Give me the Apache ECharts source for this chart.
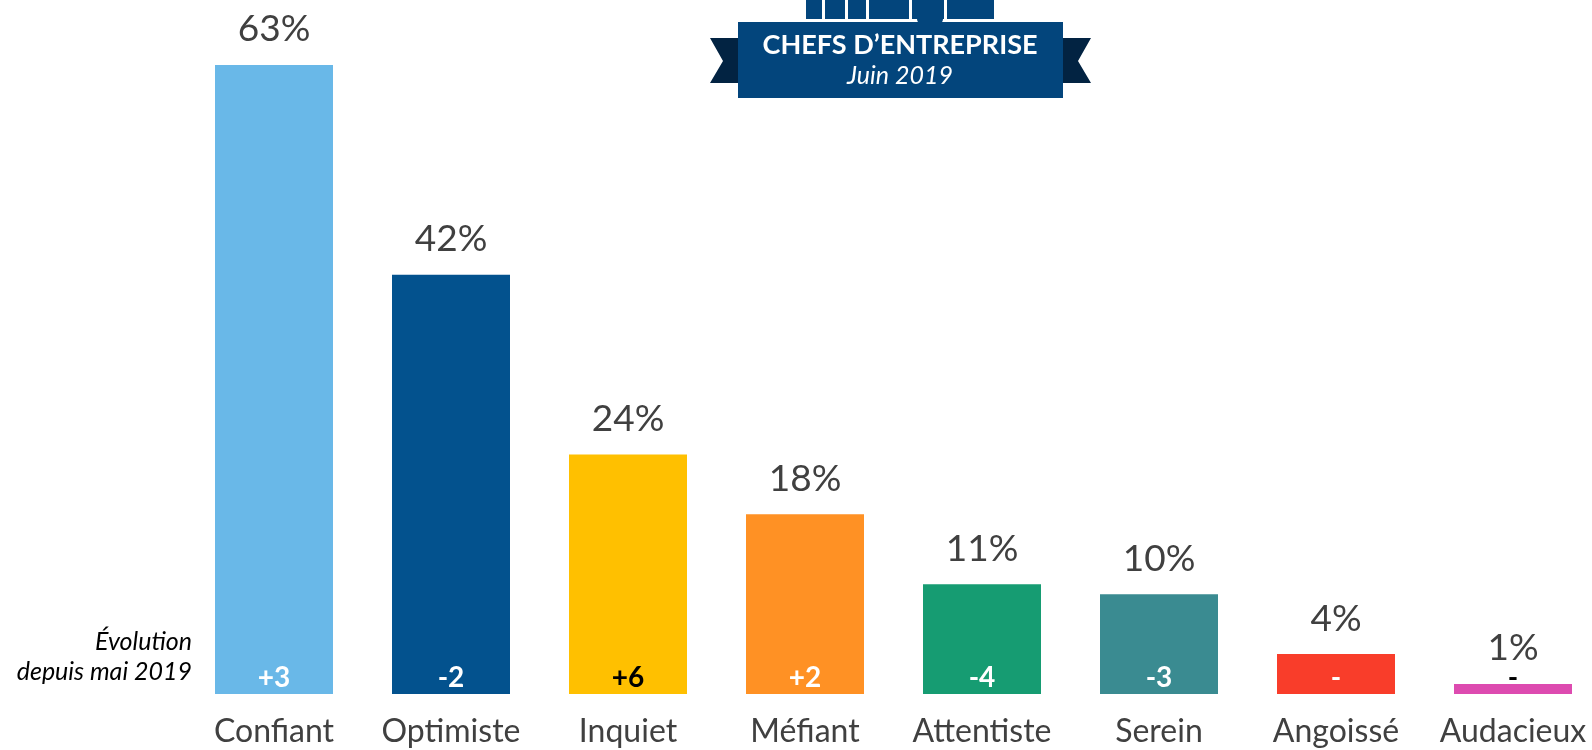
<!DOCTYPE html>
<html>
<head>
<meta charset="utf-8">
<script src="https://cdn.jsdelivr.net/npm/echarts@6/dist/echarts.min.js"></script>
<style>
    html, body { margin: 0; padding: 0; background: #fff; }
    #myChart { width: 1592px; height: 750px; }
</style>
</head>
<body>
<div id="myChart"></div>
<script>
var categories = ['Confiant', 'Optimiste', 'Inquiet', 'Méfiant', 'Attentiste', 'Serein', 'Angoissé', 'Audacieux'];
var values = [63, 42, 24, 18, 11, 10, 4, 1];
var evolutions = ['+3', '-2', '+6', '+2', '-4', '-3', '-', '-'];
var barColors = ['#69b8e8', '#03528e', '#ffc000', '#ff9124', '#169c72', '#3a8b91', '#f93d2a', '#dd4bb0'];
var evoColors = ['#fff', '#fff', '#000', '#fff', '#fff', '#fff', '#fff', '#000'];

var font = 'Lato';
var echart = echarts.init(document.querySelector('#myChart'));

// logo blocks peeking above the banner
var logoBlocks = [[806, 16], [825, 20], [848, 18], [869, 40], [912, 32], [947, 47]];
var graphics = [];
logoBlocks.forEach(function (b) {
    graphics.push({
        type: 'rect',
        shape: { x: b[0], y: 0, width: b[1], height: 19 },
        style: { fill: '#03457c' }
    });
});
graphics.push(
    { type: 'rect', shape: { x: 917, y: 0, width: 26, height: 25, r: [0, 0, 6, 6] }, style: { fill: '#03457c' } },
    { type: 'polygon', shape: { points: [[710, 38], [740, 38], [740, 83], [710, 83], [723, 61]] }, style: { fill: '#022342' } },
    { type: 'polygon', shape: { points: [[1061, 38], [1091, 38], [1078, 61], [1091, 83], [1061, 83]] }, style: { fill: '#022342' } },
    { type: 'rect', shape: { x: 738, y: 22, width: 325, height: 76 }, style: { fill: '#03457c' } },
    {
        type: 'text', x: 900, y: 45,
        style: { text: 'CHEFS D’ENTREPRISE', fill: '#fff', font: 'bold 27px ' + font, textAlign: 'center', textVerticalAlign: 'middle' }
    },
    {
        type: 'text', x: 900, y: 76,
        style: { text: 'Juin 2019', fill: '#fff', font: 'italic 25px ' + font, textAlign: 'center', textVerticalAlign: 'middle' }
    },
    {
        type: 'text', x: 192, y: 642,
        style: { text: 'Évolution', fill: '#000', font: 'italic 25px ' + font, textAlign: 'right', textVerticalAlign: 'middle' }
    },
    {
        type: 'text', x: 192, y: 672,
        style: { text: 'depuis mai 2019', fill: '#000', font: 'italic 25px ' + font, textAlign: 'right', textVerticalAlign: 'middle' }
    }
);

var option = {
    animation: false,
    grid: { left: 185.5, width: 1416, top: 65, bottom: 56, outerBoundsMode: 'none', containLabel: false },
    xAxis: {
        type: 'category',
        data: categories,
        axisLine: { show: false },
        axisTick: { show: false },
        axisLabel: { margin: 22, color: '#404040', fontSize: 32, fontFamily: font, interval: 0 }
    },
    yAxis: { type: 'value', min: 0, max: 63, show: false, splitLine: { show: false } },
    graphic: graphics,
    series: [
        {
            name: 'valeur',
            type: 'bar',
            barWidth: 118,
            data: values.map(function (v, i) {
                return { value: v, itemStyle: { color: barColors[i] } };
            }),
            label: {
                show: true,
                position: 'top',
                distance: 17,
                formatter: '{c}%',
                color: '#404040',
                fontSize: 37,
                fontFamily: font
            }
        },
        {
            name: 'evolution',
            type: 'bar',
            barWidth: 118,
            barGap: '-100%',
            itemStyle: { color: 'transparent' },
            data: values.map(function (v, i) {
                return {
                    value: v,
                    label: { formatter: evolutions[i], color: evoColors[i] }
                };
            }),
            label: {
                show: true,
                position: 'insideBottom',
                distance: 2,
                fontSize: 28,
                fontWeight: 'bold',
                fontFamily: font
            }
        }
    ]
};
echart.setOption(option);
</script>
</body>
</html>
